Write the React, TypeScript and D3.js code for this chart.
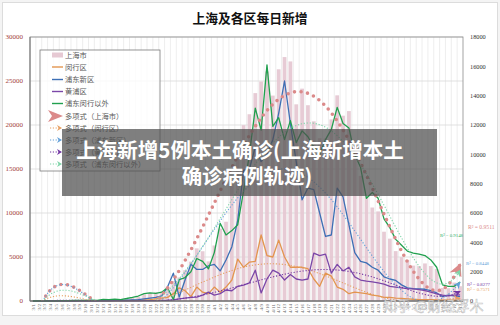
import React from "react";
import * as d3 from "d3";

const dates = [
  "3/1", "3/2", "3/3", "3/4", "3/5", "3/6", "3/7", "3/8", "3/9", "3/10",
  "3/11", "3/12", "3/13", "3/14", "3/15", "3/16", "3/17", "3/18", "3/19", "3/20",
  "3/21", "3/22", "3/23", "3/24", "3/25", "3/26", "3/27", "3/28", "3/29", "3/30",
  "3/31", "4/1", "4/2", "4/3", "4/4", "4/5", "4/6", "4/7", "4/8", "4/9",
  "4/10", "4/11", "4/12", "4/13", "4/14", "4/15", "4/16", "4/17", "4/18", "4/19",
  "4/20", "4/21", "4/22", "4/23", "4/24", "4/25", "4/26", "4/27", "4/28", "4/29",
  "4/30", "5/1", "5/2", "5/3", "5/4", "5/5", "5/6", "5/7", "5/8", "5/9",
  "5/10", "5/11", "5/12", "5/13",
];

// 上海市 (left axis)
const shanghai = [
  2, 8, 16, 19, 28, 48, 55, 65, 80, 75,
  83, 65, 170, 139, 202, 158, 260, 374, 509, 758,
  896, 981, 983, 1609, 2269, 2678, 3500, 4477, 5982, 5653,
  4502, 6311, 8226, 9006, 13354, 17077, 19982, 21222, 23624, 24944,
  26087, 23342, 26330, 27719, 27224, 22348, 24130, 22248, 20417, 18495,
  18461, 20634, 23370, 21058, 21582, 17528, 14222, 11956, 10622, 10181,
  7872, 7084, 5669, 4982, 4651, 4024, 3961, 4269, 3975, 3625,
  1487, 1449, 2094, 1681,
];

// districts (right axis)
const minhang = [
  0, 1, 2, 3, 4, 6, 8, 8, 10, 10,
  12, 10, 20, 18, 25, 20, 30, 40, 50, 80,
  100, 150, 200, 250, 500, 900, 700, 300, 950, 600,
  500, 950, 600, 950, 1430, 2860, 2300, 2650, 2700, 4500,
  3100, 3000, 4150, 3000, 2300, 2300, 2300, 2200, 1500, 1000,
  1900, 1700, 950, 800, 500, 600, 550, 500, 400, 350,
  250, 250, 200, 180, 150, 120, 100, 100, 90, 80,
  50, 50, 60, 50,
];
const pudong = [
  0, 2, 5, 5, 8, 10, 12, 15, 20, 15,
  20, 15, 40, 30, 50, 40, 60, 80, 100, 150,
  200, 250, 350, 950, 1900, 270, 1430, 2500, 2150, 2150,
  2400, 2500, 2050, 2800, 3700, 5500, 8900, 9000, 10500, 9500,
  10000, 11000, 12800, 15000, 12100, 9500, 6900, 7700, 7600, 6000,
  4400, 4500, 7700, 7100, 5200, 3300, 2700, 2600, 2300, 2100,
  1650, 1500, 1400, 1100, 900, 850, 830, 800, 700, 550,
  300, 400, 350, 300,
];
const huangpu = [
  0, 0, 0, 0, 0, 1, 1, 1, 2, 2,
  2, 2, 3, 3, 4, 5, 8, 10, 15, 20,
  25, 30, 40, 50, 80, 150, 200, 250, 270, 400,
  600, 400, 500, 750, 700, 1000, 1090, 1230, 2100, 550,
  1500, 2100, 1900, 1430, 1800, 1500, 1430, 1500, 3270, 3100,
  3200, 1900, 2500, 2050, 2300, 1640, 1430, 1350, 1300, 1230,
  1150, 1000, 950, 900, 850, 830, 780, 700, 600, 480,
  400, 350, 400, 420,
];
const outside = [
  1, 3, 8, 9, 15, 25, 30, 35, 45, 40,
  50, 40, 110, 90, 130, 100, 170, 250, 340, 500,
  560, 520, 600, 900, 100, 1450, 1600, 2000, 2900, 2700,
  2200, 3300, 5300, 4500, 4800, 5200, 7500, 10000, 13150, 11650,
  16100, 11900, 12500, 11000, 12300, 10800, 11600, 11200, 10500, 10000,
  11000, 11700, 13200, 12100, 11800, 10000, 9100, 7000, 7400, 7000,
  5600, 5000, 4200, 3800, 3400, 3270, 3200, 3100, 2800, 2300,
  1100, 1000, 1000, 1300,
];

const leftTicks = [0, 5000, 10000, 15000, 20000, 25000, 30000];
const rightTicks = [0, 2000, 4000, 6000, 8000, 10000, 12000, 14000, 16000, 18000];

const legendNames = ["上海市", "闵行区", "浦东新区", "黄浦区", "浦东闵行以外"];
const trendNames = ["多项式（上海市）", "多项式（闵行区）", "多项式（浦东新区）", "多项式（黄浦区）", "多项式（浦东闵行以外）"];
const r2Text = ["R² = 0.9511", "R² = 0.7571", "R² = 0.8448", "R² = 0.8277", "R² = 0.9148"];

const lineColors = ["#e6c9d3", "#e3954f", "#3d6fb5", "#7b47a8", "#20a04e"];
const trendColors = ["#db8a8a", "#e7a063", "#64a0d8", "#7236a3", "#7fd4a8"];

const L = 30, R = 463, T = 37, B = 301;

// least squares polynomial (Excel-style trendline)
function polyFit(ys: number[], deg: number) {
  const n = ys.length;
  const c = (n - 1) / 2;
  const t = (i: number) => (i - c) / c;
  const m = deg + 1;
  const A = Array.from({ length: m }, () => new Array(m + 1).fill(0));
  ys.forEach((y, i) => {
    const p: number[] = [];
    for (let k = 0; k < m; k++) p.push(Math.pow(t(i), k));
    for (let r = 0; r < m; r++) {
      for (let s = 0; s < m; s++) A[r][s] += p[r] * p[s];
      A[r][m] += p[r] * y;
    }
  });
  for (let col = 0; col < m; col++) {
    let piv = col;
    for (let r = col + 1; r < m; r++) if (Math.abs(A[r][col]) > Math.abs(A[piv][col])) piv = r;
    [A[col], A[piv]] = [A[piv], A[col]];
    for (let r = 0; r < m; r++) {
      if (r === col) continue;
      const f = A[r][col] / A[col][col];
      for (let s = col; s <= m; s++) A[r][s] -= f * A[col][s];
    }
  }
  const coef = A.map((row, k) => row[m] / row[k]);
  return (i: number) => {
    const ti = t(i);
    let v = 0;
    for (let k = m - 1; k >= 0; k--) v = v * ti + coef[k];
    return v;
  };
}

export default function App() {
  const n = dates.length;
  const x = d3.scaleBand().domain(dates).range([L, R]).paddingInner(0.36).paddingOuter(0.18);
  const xi = d3.scaleLinear().domain([-0.5, n - 0.5]).range([L, R]);
  const yL = d3.scaleLinear().domain([0, 30000]).range([B, T]);
  const yR = d3.scaleLinear().domain([0, 18000]).range([B, T]);
  const step = x.step();

  const series = [minhang, pudong, huangpu, outside];
  const line = d3
    .line<number>()
    .x((_, i) => xi(i))
    .y((d) => yR(d));

  const trendSrc = [shanghai, minhang, pudong, huangpu, outside];
  const samples = d3.range(0, n - 1 + 0.001, 0.25);
  const trends = trendSrc.map((s, k) => {
    const f = polyFit(s, 6);
    const y = k === 0 ? yL : yR;
    return d3
      .line<number>()
      .x((t) => xi(t))
      .y((t) => y(f(t)))
      .curve(d3.curveLinear)(samples);
  });

  const serif = "'Liberation Serif', 'DejaVu Serif', serif";
  const cjk = "'Noto Sans CJK SC', sans-serif";
  const legY = [55, 67, 79.5, 91.5, 103.5, 116, 128, 140, 152, 164];
  const r2Pos = [
    [468, 229],
    [467, 291],
    [466, 265],
    [467, 286],
    [440, 237],
  ];

  return (
    <svg width={500} height={325} style={{ position: "absolute", left: 0, top: 0 }}>
      <defs>
        <clipPath id="plotClip">
          <rect x={L} y={T - 2} width={R - L + 2} height={B - T + 2} />
        </clipPath>
        {trendColors.map((c, k) => (
          <marker
            key={k}
            id={`arr${k}`}
            viewBox="0 0 10 10"
            refX={9}
            refY={5}
            markerUnits="userSpaceOnUse"
            markerWidth={k === 0 ? 15 : 8}
            markerHeight={k === 0 ? 13 : 7}
            orient="auto"
          >
            <path d="M0,0 L10,5 L0,10 L3,5 Z" fill={c} />
          </marker>
        ))}
      </defs>
      <rect x={0} y={0} width={500} height={325} fill="#f4f4f4" />
      <rect x={2.5} y={2.5} width={495} height={313} fill="#fff" stroke="#dcdcdc" />

      {/* title */}
      <text x={250} y={23} textAnchor="middle" fontFamily={cjk} fontWeight="bold" fontSize={12.8} fill="#111">
        上海及各区每日新增
      </text>

      {/* grid */}
      <g stroke="#e6e6e6" strokeWidth={0.7}>
        {d3.range(1, n).map((k) => (
          <line key={k} x1={L + k * step} x2={L + k * step} y1={T} y2={B} />
        ))}
      </g>
      <g stroke="#d9d9d9" strokeWidth={0.8}>
        {leftTicks.map((t) => (
          <line key={t} x1={L} x2={R} y1={yL(t)} y2={yL(t)} />
        ))}
      </g>

      {/* bars */}
      <g fill={lineColors[0]} opacity={0.95}>
        {shanghai.map((v, i) => (
          <rect key={i} x={x(dates[i])} y={yL(v)} width={x.bandwidth()} height={B - yL(v)} />
        ))}
      </g>

      {/* district lines */}
      {series.map((s, k) => (
        <path key={k} d={line(s) || ""} fill="none" stroke={lineColors[k + 1]} strokeWidth={1.3} strokeLinejoin="round" />
      ))}

      {/* trend lines */}
      <g clipPath="url(#plotClip)">
        {trends.map((d, k) =>
          k === 0 ? (
            <path key={k} d={d || ""} fill="none" stroke={trendColors[0]} strokeWidth={3.6} strokeDasharray="0 6.6" strokeLinecap="round" markerEnd="url(#arr0)" />
          ) : (
            <path key={k} d={d || ""} fill="none" stroke={trendColors[k]} strokeWidth={1.1} strokeDasharray="1.2 1.8" markerEnd={`url(#arr${k})`} />
          )
        )}
      </g>

      {/* R² labels */}
      {r2Text.map((t, k) => (
        <text key={k} x={r2Pos[k][0]} y={r2Pos[k][1]} fontFamily={serif} fontSize={k === 0 ? 5.6 : 4.8} fill={trendColors[k] === "#7fd4a8" ? "#2fae6a" : trendColors[k]}>
          {t}
        </text>
      ))}

      {/* frame */}
      <rect x={L} y={T} width={R - L} height={B - T} fill="none" stroke="#8c8c8c" strokeWidth={0.8} />
      <line x1={L} x2={R} y1={B} y2={B} stroke="#555" strokeWidth={1} />
      <line x1={L} x2={L} y1={T} y2={B} stroke="#777" strokeWidth={1} />

      {/* axes labels */}
      {leftTicks.map((t) => (
        <text key={t} x={23} y={yL(t)} dy="0.35em" textAnchor="end" fontFamily={serif} fontSize={7} fill="#a3413c">
          {t}
        </text>
      ))}
      {rightTicks.map((t) => (
        <text key={t} x={470} y={yR(t)} dy="0.35em" fontFamily={serif} fontSize={6.3} fill="#333">
          {t}
        </text>
      ))}
      {dates.map((d, i) => (
        <text
          key={d}
          transform={`translate(${xi(i)},304) rotate(-90)`}
          dy="0.35em"
          textAnchor="end"
          fontFamily={serif}
          fontSize={5}
          fill="#666"
        >
          {d}
        </text>
      ))}

      {/* legend */}
      <rect x={40} y={50} width={120} height={121} fill="#fff" fillOpacity={0.8} stroke="#7a7a7a" strokeWidth={0.8} />
      {legendNames.map((name, k) => (
        <g key={name}>
          {k === 0 ? (
            <rect x={52} y={legY[k] - 2.5} width={11} height={5} fill={lineColors[0]} />
          ) : (
            <line x1={52} x2={63} y1={legY[k]} y2={legY[k]} stroke={lineColors[k]} strokeWidth={1.4} />
          )}
          <text x={65} y={legY[k]} dy="0.35em" fontFamily={cjk} fontSize={7.3} fill="#595959">
            {name}
          </text>
        </g>
      ))}
      {trendNames.map((name, k) => {
        const yy = legY[k + 5];
        return (
          <g key={name}>
            {k === 0 ? (
              <path d={`M48,${yy - 6} L63,${yy} L48,${yy + 6} L52,${yy} Z`} fill={trendColors[0]} />
            ) : (
              <>
                <line x1={50} x2={58} y1={yy} y2={yy} stroke={trendColors[k]} strokeWidth={1.1} strokeDasharray="1.2 1.6" />
                <path d={`M57,${yy - 3} L62,${yy} L57,${yy + 3} L58.5,${yy} Z`} fill={trendColors[k]} />
              </>
            )}
            <text x={65} y={yy} dy="0.35em" fontFamily={cjk} fontSize={7.3} fill="#595959">
              {name}
            </text>
          </g>
        );
      })}

      {/* headline overlay */}
      <rect x={62} y={129} width={375} height={67} fill="#4d4d4d" opacity={0.72} />
      <text x={240} y={158} textAnchor="middle" fontFamily={cjk} fontWeight="bold" fontSize={20.5} fill="#fff">
        上海新增5例本土确诊(上海新增本土
      </text>
      <text x={247} y={184} textAnchor="middle" fontFamily={cjk} fontWeight="bold" fontSize={20.5} fill="#fff">
        确诊病例轨迹)
      </text>

      {/* watermark */}
      <text x={383} y={311} fontFamily={cjk} fontSize={14} fill="#ffffff" fillOpacity={0.75} stroke="#9a9a9a" strokeOpacity={0.6} strokeWidth={0.6}>
        知乎 @财经浮木
      </text>
    </svg>
  );
}
